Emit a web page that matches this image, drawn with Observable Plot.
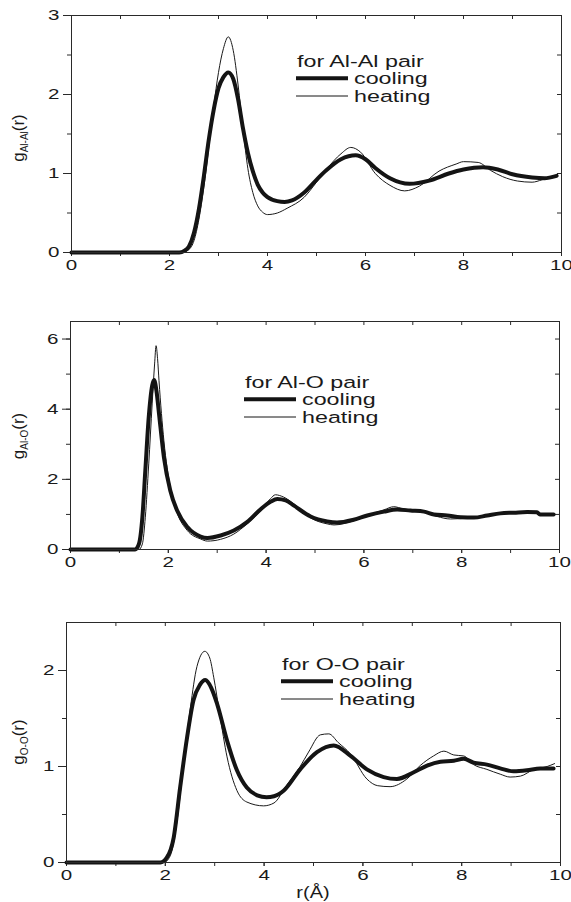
<!DOCTYPE html>
<html>
<head>
<meta charset="utf-8">
<script src="https://cdn.jsdelivr.net/npm/d3@7"></script>
<script src="https://cdn.jsdelivr.net/npm/@observablehq/plot@0.6"></script>
<style>
  body { margin: 0; background: #fff; }
  #chart svg { display: block; }
</style>
</head>
<body>
<div id="chart"></div>
<script>
// ---------- tick labels ----------
const rTicks = [0, 2, 4, 6, 8, 10];
const rMinorTicks = [0, 1, 2, 3, 4, 5, 6, 7, 8, 9, 10];
const aaYTicks = [0, 1, 2, 3];
const aaYMinor = [0, 0.5, 1, 1.5, 2, 2.5, 3];
const aoYTicks = [0, 2, 4, 6];
const aoYMinor = [0, 1, 2, 3, 4, 5, 6];
const ooYTicks = [0, 1, 2];
const ooYMinor = [0, 0.5, 1, 1.5, 2];
const seriesNames = ["cooling", "heating"];
const panelTitles = ["for Al-Al pair", "for Al-O pair", "for O-O pair"];
const ySubscripts = ["Al-Al", "Al-O", "O-O"];
const xTitle = "r(Å)";

// ---------- Al-Al ----------
const aaCoolR = [0, 2.2, 2.3, 2.4, 2.5, 2.6, 2.7, 2.8, 2.9, 3.0, 3.1, 3.2, 3.3, 3.4, 3.5, 3.6, 3.7, 3.8, 3.9, 4.0, 4.2, 4.35, 4.5, 4.75, 5.0, 5.2, 5.5, 5.8, 6.0, 6.2, 6.5, 6.9, 7.3, 7.7, 8.0, 8.4, 8.7, 9.0, 9.4, 9.65, 9.9];
const aaCoolG = [0, 0, 0.02, 0.08, 0.25, 0.55, 0.96, 1.42, 1.80, 2.08, 2.22, 2.28, 2.20, 1.94, 1.57, 1.26, 1.03, 0.86, 0.76, 0.70, 0.65, 0.64, 0.66, 0.76, 0.92, 1.04, 1.18, 1.23, 1.18, 1.07, 0.94, 0.87, 0.91, 1.00, 1.05, 1.08, 1.05, 0.99, 0.95, 0.94, 0.97];
const aaHeatR = [0, 2.25, 2.4, 2.5, 2.6, 2.7, 2.8, 2.9, 3.0, 3.1, 3.2, 3.3, 3.4, 3.5, 3.6, 3.7, 3.8, 3.9, 4.0, 4.2, 4.4, 4.75, 5.0, 5.2, 5.5, 5.7, 5.9, 6.2, 6.5, 6.8, 7.1, 7.5, 7.85, 8.0, 8.3, 8.55, 8.8, 9.1, 9.4, 9.6, 9.8, 9.9];
const aaHeatG = [0, 0, 0.04, 0.15, 0.42, 0.82, 1.32, 1.84, 2.28, 2.58, 2.73, 2.56, 2.12, 1.56, 1.06, 0.76, 0.59, 0.51, 0.48, 0.50, 0.56, 0.70, 0.89, 1.05, 1.25, 1.33, 1.27, 1.00, 0.85, 0.78, 0.84, 1.03, 1.12, 1.15, 1.14, 1.04, 0.96, 0.905, 0.89, 0.92, 0.96, 0.98];

// ---------- Al-O ----------
const aoCoolR = [0, 1.32, 1.40, 1.47, 1.53, 1.60, 1.67, 1.71, 1.76, 1.81, 1.91, 2.04, 2.18, 2.39, 2.66, 2.8, 3.07, 3.34, 3.61, 3.89, 4.09, 4.23, 4.4, 4.57, 4.91, 5.25, 5.45, 5.79, 6.07, 6.41, 6.68, 6.95, 7.23, 7.43, 7.7, 7.98, 8.25, 8.52, 8.79, 9.07, 9.34, 9.54, 9.6, 9.88];
const aoCoolG = [0, 0, 0.16, 0.92, 2.25, 3.77, 4.67, 4.83, 4.50, 3.87, 2.63, 1.68, 1.11, 0.64, 0.37, 0.33, 0.40, 0.54, 0.78, 1.15, 1.36, 1.44, 1.40, 1.25, 0.94, 0.80, 0.77, 0.85, 0.97, 1.08, 1.14, 1.11, 1.08, 1.00, 0.97, 0.92, 0.91, 0.97, 1.03, 1.05, 1.07, 1.06, 1.00, 1.00];
const aoHeatR = [0, 1.40, 1.47, 1.53, 1.60, 1.67, 1.72, 1.75, 1.78, 1.81, 1.91, 2.04, 2.18, 2.39, 2.66, 2.8, 3.07, 3.34, 3.61, 3.89, 4.09, 4.19, 4.35, 4.57, 4.91, 5.25, 5.39, 5.79, 6.07, 6.41, 6.61, 6.8, 7.23, 7.5, 7.77, 7.98, 8.25, 8.52, 8.79, 9.07, 9.34, 9.54, 9.6, 9.88];
const aoHeatG = [0, 0, 0.16, 0.92, 2.44, 4.15, 5.29, 5.81, 5.45, 4.81, 3.10, 1.78, 1.05, 0.54, 0.30, 0.24, 0.29, 0.44, 0.73, 1.11, 1.45, 1.56, 1.50, 1.30, 0.90, 0.73, 0.70, 0.82, 0.97, 1.13, 1.22, 1.16, 1.06, 0.94, 0.87, 0.88, 0.92, 0.97, 1.02, 1.05, 1.07, 1.06, 1.00, 1.00];

// ---------- O-O ----------
const ooCoolR = [0, 1.90, 2.03, 2.17, 2.30, 2.44, 2.57, 2.7, 2.81, 2.93, 3.05, 3.25, 3.45, 3.65, 3.86, 4.05, 4.2, 4.40, 4.73, 5.07, 5.41, 5.75, 6.08, 6.42, 6.69, 7.03, 7.30, 7.57, 7.84, 8.04, 8.24, 8.51, 8.78, 9.05, 9.32, 9.59, 9.86];
const ooCoolG = [0, 0, 0.05, 0.26, 0.78, 1.30, 1.69, 1.85, 1.90, 1.82, 1.65, 1.27, 0.96, 0.78, 0.70, 0.68, 0.69, 0.75, 0.97, 1.15, 1.22, 1.11, 0.97, 0.89, 0.87, 0.94, 1.01, 1.05, 1.06, 1.08, 1.04, 1.02, 0.98, 0.95, 0.96, 0.98, 0.98];
const ooHeatR = [0, 1.97, 2.10, 2.24, 2.37, 2.51, 2.64, 2.8, 2.9, 2.98, 3.1, 3.25, 3.45, 3.65, 3.99, 4.2, 4.45, 4.73, 4.9, 5.14, 5.31, 5.5, 5.75, 6.08, 6.3, 6.55, 6.89, 7.16, 7.43, 7.64, 7.84, 8.04, 8.24, 8.51, 8.78, 8.98, 9.19, 9.46, 9.73, 9.88];
const ooHeatG = [0, 0, 0.07, 0.44, 1.03, 1.62, 2.04, 2.20, 2.13, 1.93, 1.55, 1.10, 0.75, 0.63, 0.59, 0.62, 0.80, 1.00, 1.15, 1.33, 1.34, 1.25, 1.13, 0.87, 0.80, 0.79, 0.87, 1.01, 1.11, 1.16, 1.12, 1.11, 1.02, 0.97, 0.92, 0.89, 0.90, 0.97, 1.00, 1.03];

const FONT = "'Liberation Sans', Arial, Helvetica, sans-serif";
const STRETCH = 1.37;

const panels = [
  { coolR: aaCoolR, coolG: aaCoolG, heatR: aaHeatR, heatG: aaHeatG, yMax: 3, yTicks: aaYTicks, yMinor: aaYMinor,
    title: panelTitles[0], sub: ySubscripts[0],
    layout: { h: 300, mt: 15, mb: 48, ml: 71, mr: 10, lx: 297, ly: 61, yl: 138 } },
  { coolR: aoCoolR, coolG: aoCoolG, heatR: aoHeatR, heatG: aoHeatG, yMax: 6.5, yTicks: aoYTicks, yMinor: aoYMinor,
    title: panelTitles[1], sub: ySubscripts[1],
    layout: { h: 300, mt: 21, mb: 51, ml: 70, mr: 12, lx: 245, ly: 82, yl: 136 } },
  { coolR: ooCoolR, coolG: ooCoolG, heatR: ooHeatR, heatG: ooHeatG, yMax: 2.5, yTicks: ooYTicks, yMinor: ooYMinor,
    title: panelTitles[2], sub: ySubscripts[2],
    layout: { h: 302, mt: 22, mb: 40, ml: 66, mr: 11, lx: 282, ly: 64, yl: 142 } }
];

function stretchText(sel, s) {
  sel.each(function () {
    const t = d3.select(this);
    const tr = t.attr("transform");
    if (tr) {
      t.attr("transform", tr + ` scale(${s},1)`);
    } else {
      const x = +t.attr("x") || 0, y = +t.attr("y") || 0;
      t.attr("x", null).attr("y", null).attr("transform", `translate(${x},${y}) scale(${s},1)`);
    }
  });
}

const root = document.getElementById("chart");
const fmt = d => String(d);

panels.forEach((p, idx) => {
  const L = p.layout;
  const W = 571;
  const fw = W - L.ml - L.mr;
  const fh = L.h - L.mt - L.mb;
  const cool = p.coolR.map((r, i) => ({ r, g: p.coolG[i] }));
  const heat = p.heatR.map((r, i) => ({ r, g: p.heatG[i] }));
  const axisColor = "#2a2a2a";

  const chart = Plot.plot({
    width: W,
    height: L.h,
    marginTop: L.mt,
    marginBottom: L.mb,
    marginLeft: L.ml,
    marginRight: L.mr,
    style: { fontFamily: FONT, fontSize: "15px", color: "#1a1a1a", background: "#fff", overflow: "visible" },
    x: { domain: [0, 10], label: null },
    y: { domain: [0, p.yMax], label: null },
    marks: [
      Plot.axisX(rTicks, { tickSize: 4, tickPadding: 3, stroke: axisColor, label: null, tickFormat: fmt }),
      Plot.axisX(rMinorTicks, { tickSize: 4, fill: "none", stroke: axisColor, label: null }),
      Plot.axisY(p.yTicks, { tickSize: 8, tickPadding: 4, stroke: axisColor, label: null, tickFormat: fmt }),
      Plot.axisY(p.yMinor, { tickSize: 4, fill: "none", stroke: axisColor, label: null }),
      Plot.tickX(rMinorTicks, { x: d => d, insetBottom: fh - 4, stroke: axisColor }),
      Plot.tickY(p.yMinor, { y: d => d, insetLeft: fw - 4, stroke: axisColor }),
      Plot.line(heat, { x: "r", y: "g", curve: "monotone-x", stroke: "#1a1a1a", strokeWidth: 1 }),
      Plot.line(cool, { x: "r", y: "g", curve: "monotone-x", stroke: "#141414", strokeWidth: 4, strokeLinejoin: "round" }),
      Plot.frame({ stroke: axisColor, strokeWidth: 1 })
    ]
  });

  const svg = d3.select(chart);
  stretchText(svg.selectAll("text"), STRETCH);

  // legend
  const lg = svg.append("g").attr("font-family", FONT).attr("fill", "#1a1a1a").attr("text-anchor", "start");
  lg.append("text").attr("text-anchor", "start")
    .attr("transform", `translate(${L.lx},${L.ly}) scale(${STRETCH},1)`)
    .attr("dy", "0.35em").attr("font-size", 17).text(p.title);
  const rows = [
    { name: seriesNames[0], w: 4, dy: 17.3 },
    { name: seriesNames[1], w: 1, dy: 35 }
  ];
  rows.forEach(row => {
    lg.append("line").attr("x1", L.lx - 1).attr("x2", L.lx + 51)
      .attr("y1", L.ly + row.dy).attr("y2", L.ly + row.dy)
      .attr("stroke", "#141414").attr("stroke-width", row.w);
    lg.append("text").attr("text-anchor", "start")
      .attr("transform", `translate(${L.lx + 57},${L.ly + row.dy}) scale(${STRETCH},1)`)
      .attr("dy", "0.35em").attr("font-size", 17).text(row.name);
  });

  // y label with subscript
  const yt = svg.append("text").attr("font-family", FONT).attr("fill", "#1a1a1a")
    .attr("text-anchor", "middle")
    .attr("transform", `translate(24,${L.yl}) rotate(-90)`)
    .attr("font-size", 17);
  yt.append("tspan").text("g");
  yt.append("tspan").attr("font-size", 10).attr("dy", 4).text(p.sub);
  yt.append("tspan").attr("dy", -4).text("(r)");

  if (idx === panels.length - 1) {
    svg.append("text").attr("font-family", FONT).attr("fill", "#1a1a1a")
      .attr("text-anchor", "middle").attr("font-size", 16)
      .attr("transform", `translate(${L.ml + fw / 2},${L.h - 10}) scale(1.25,1)`)
      .attr("dy", "0.35em").text(xTitle);
  }

  root.appendChild(chart);
});
</script>
</body>
</html>
